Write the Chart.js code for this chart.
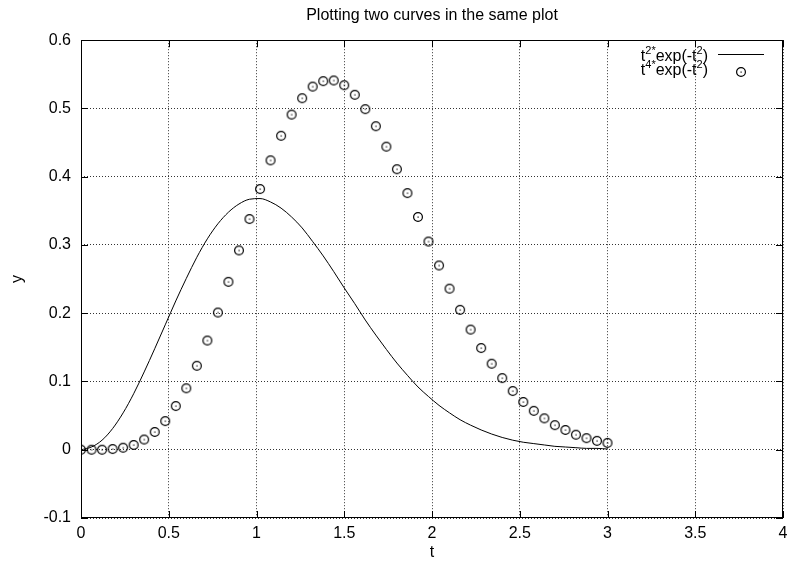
<!DOCTYPE html>
<html lang="en">
<head>
  <meta charset="UTF-8">
  <title>Plotting two curves in the same plot</title>
  <script src="https://cdn.jsdelivr.net/npm/chart.js"></script>
  <style>
    html, body { margin: 0; padding: 0; background: #fff; }
    #wrap { width: 789px; height: 568px; }
  </style>
</head>
<body>
  <div id="wrap"><canvas id="plot" width="789" height="568"></canvas></div>

  <script>
    // sample points t = 0 .. 3, step 0.06
    const tValues = [
      0.00, 0.06, 0.12, 0.18, 0.24, 0.30, 0.36, 0.42, 0.48, 0.54,
      0.60, 0.66, 0.72, 0.78, 0.84, 0.90, 0.96, 1.02, 1.08, 1.14,
      1.20, 1.26, 1.32, 1.38, 1.44, 1.50, 1.56, 1.62, 1.68, 1.74,
      1.80, 1.86, 1.92, 1.98, 2.04, 2.10, 2.16, 2.22, 2.28, 2.34,
      2.40, 2.46, 2.52, 2.58, 2.64, 2.70, 2.76, 2.82, 2.88, 2.94, 3.00
    ];
    // t^2*exp(-t^2)  (solid line)
    const curveValues = [
      0.000, 0.004, 0.014, 0.031, 0.054, 0.082, 0.114, 0.148, 0.183, 0.218,
      0.251, 0.282, 0.309, 0.331, 0.348, 0.360, 0.367, 0.368, 0.363, 0.354,
      0.341, 0.325, 0.305, 0.284, 0.261, 0.237, 0.214, 0.190, 0.168, 0.147,
      0.127, 0.109, 0.092, 0.078, 0.065, 0.054, 0.044, 0.036, 0.029, 0.023,
      0.018, 0.014, 0.011, 0.009, 0.007, 0.005, 0.004, 0.003, 0.002, 0.002, 0.001
    ];
    // t^4*exp(-t^2)  (circles)
    const pointValues = [
      0.000, 0.000, 0.000, 0.001, 0.003, 0.007, 0.015, 0.026, 0.042, 0.064,
      0.090, 0.123, 0.160, 0.201, 0.246, 0.292, 0.338, 0.382, 0.424, 0.460,
      0.491, 0.515, 0.532, 0.540, 0.541, 0.534, 0.520, 0.499, 0.474, 0.444,
      0.411, 0.376, 0.341, 0.305, 0.270, 0.236, 0.205, 0.176, 0.149, 0.126,
      0.105, 0.086, 0.070, 0.057, 0.046, 0.036, 0.029, 0.022, 0.017, 0.013, 0.010
    ];
    const xTickLabels = ['0', '0.5', '1', '1.5', '2', '2.5', '3', '3.5', '4'];
    const yTickLabels = ['-0.1', '0', '0.1', '0.2', '0.3', '0.4', '0.5', '0.6'];

    const FONT = '"Liberation Sans", Arial, sans-serif';

    // gnuplot-like circle with a dot in the middle
    function makeMarker() {
      const c = document.createElement('canvas');
      c.width = 12; c.height = 12;
      const g = c.getContext('2d');
      g.strokeStyle = '#000';
      g.lineWidth = 1.2;
      g.beginPath();
      g.arc(6, 6, 4.4, 0, Math.PI * 2);
      g.stroke();
      g.fillStyle = '#000';
      g.fillRect(5.5, 5.5, 1.2, 1.2);
      return c;
    }
    const marker = makeMarker();

    // frame + inward tick marks on all four sides
    const framePlugin = {
      id: 'frame',
      afterDatasetsDraw(chart) {
        const { ctx, chartArea: a, scales } = chart;
        ctx.save();
        ctx.strokeStyle = '#000';
        ctx.lineWidth = 1;
        ctx.setLineDash([]);
        ctx.strokeRect(Math.round(a.left) + 0.5, Math.round(a.top) + 0.5,
                       Math.round(a.right - a.left) - 1, Math.round(a.bottom - a.top) - 1);
        ctx.beginPath();
        scales.x.ticks.forEach(t => {
          const px = Math.round(scales.x.getPixelForValue(t.value)) + 0.5;
          ctx.moveTo(px, a.bottom); ctx.lineTo(px, a.bottom - 7);
          ctx.moveTo(px, a.top); ctx.lineTo(px, a.top + 7);
        });
        scales.y.ticks.forEach(t => {
          const py = Math.round(scales.y.getPixelForValue(t.value)) + 0.5;
          ctx.moveTo(a.left, py); ctx.lineTo(a.left + 7, py);
          ctx.moveTo(a.right, py); ctx.lineTo(a.right - 7, py);
        });
        ctx.stroke();
        ctx.restore();
      }
    };

    // legend with superscripts, text on the left, sample on the right
    function drawRich(ctx, parts, right, baseline) {
      const big = '16px ' + FONT, small = '11px ' + FONT;
      let w = 0;
      parts.forEach(p => { ctx.font = p[1] ? small : big; w += ctx.measureText(p[0]).width; });
      let x = right - w;
      parts.forEach(p => {
        ctx.font = p[1] ? small : big;
        ctx.fillText(p[0], x, baseline - (p[1] ? 7 : 0));
        x += ctx.measureText(p[0]).width;
      });
    }
    const legendPlugin = {
      id: 'gpLegend',
      afterDraw(chart) {
        const ctx = chart.ctx;
        ctx.save();
        ctx.fillStyle = '#000';
        ctx.textBaseline = 'alphabetic';
        ctx.textAlign = 'left';
        drawRich(ctx, [['t', 0], ['2', 1], ['*', 1], ['exp(-t', 0], ['2', 1], [')', 0]], 708, 61);
        drawRich(ctx, [['t', 0], ['4', 1], ['*', 1], ['exp(-t', 0], ['2', 1], [')', 0]], 708, 75);
        ctx.strokeStyle = '#000';
        ctx.lineWidth = 1;
        ctx.beginPath();
        ctx.moveTo(718, 54.5); ctx.lineTo(764, 54.5);
        ctx.stroke();
        ctx.drawImage(marker, 741 - 6, 72 - 6);
        ctx.restore();
      }
    };

    const ctx = document.getElementById('plot').getContext('2d');
    new Chart(ctx, {
      type: 'scatter',
      data: {
        datasets: [
          {
            label: 't^2*exp(-t^2)',
            data: tValues.map((t, i) => ({ x: t, y: curveValues[i] })),
            showLine: true,
            borderColor: '#000',
            borderWidth: 1,
            pointRadius: 0,
            cubicInterpolationMode: 'monotone',
            fill: false
          },
          {
            label: 't^4*exp(-t^2)',
            data: tValues.map((t, i) => ({ x: t, y: pointValues[i] })),
            showLine: false,
            pointStyle: marker,
            pointRadius: 5
          }
        ]
      },
      options: {
        responsive: false,
        animation: false,
        events: [],
        layout: { padding: { left: 0, right: 6, top: 0, bottom: 0 } },
        plugins: {
          legend: { display: false },
          tooltip: { enabled: false },
          title: {
            display: true,
            text: 'Plotting two curves in the same plot',
            fullSize: false,
            color: '#000',
            font: { family: FONT, size: 16, weight: 'normal' },
            padding: { top: 6, bottom: 15 }
          }
        },
        scales: {
          x: {
            type: 'linear',
            min: 0, max: 4,
            afterFit: s => { s.height = 50; s.paddingLeft = 0; s.paddingRight = 0; },
            ticks: {
              stepSize: 0.5,
              padding: 6,
              color: '#000',
              font: { family: FONT, size: 16 },
              maxRotation: 0,
              callback: (v, i) => xTickLabels[i]
            },
            grid: { color: 'rgba(0,0,0,0.8)', lineWidth: 1, drawTicks: false },
            border: { display: false, dash: [1, 2] },
            title: {
              display: true, text: 't', color: '#000',
              font: { family: FONT, size: 16 },
              padding: { top: 0, bottom: 6 }
            }
          },
          y: {
            type: 'linear',
            min: -0.1, max: 0.6,
            afterFit: s => { s.width = 81; s.paddingTop = 0; s.paddingBottom = 0; },
            ticks: {
              stepSize: 0.1,
              padding: 10,
              color: '#000',
              font: { family: FONT, size: 16 },
              callback: (v, i) => yTickLabels[i]
            },
            grid: { color: 'rgba(0,0,0,0.8)', lineWidth: 1, drawTicks: false },
            border: { display: false, dash: [1, 2] },
            title: {
              display: true, text: 'y', color: '#000',
              font: { family: FONT, size: 16 },
              padding: { top: 8, bottom: 0 }
            }
          }
        }
      },
      plugins: [framePlugin, legendPlugin]
    });
  </script>
</body>
</html>
